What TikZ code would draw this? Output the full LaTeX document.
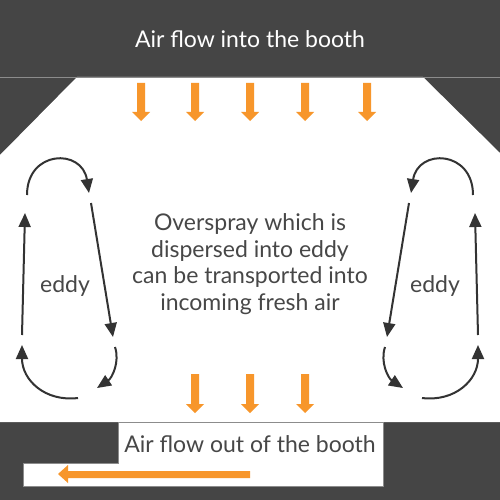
\documentclass[tikz,border=0pt]{standalone}
\usepackage{fontspec}
\setmainfont{Lato}
\usetikzlibrary{arrows.meta}

\definecolor{boothgray}{HTML}{454545}
\definecolor{edgegray}{HTML}{8C8C8C}
\definecolor{flow}{HTML}{F7962B}
\definecolor{eddyline}{HTML}{333333}
\definecolor{textgray}{HTML}{474747}

\tikzset{
  flowarrow/.style={fill=flow},
  eddyarrow/.style={draw=eddyline, line width=2pt, -{Triangle[length=14pt,width=12pt]}},
  headtext/.style={inner sep=0pt, anchor=base, font=\fontsize{23}{27}\selectfont},
  bodytext/.style={inner sep=0pt, align=center, text=textgray, font=\fontsize{23}{26.5}\selectfont},
}

\begin{document}
\begin{tikzpicture}[x=1pt,y=-1pt]
    % dark surroundings
    \fill[boothgray] (0,0) rectangle (500,500);
    \useasboundingbox (0,0) rectangle (500,500);

    % booth interior
    \fill[white] (77,77) -- (423,77) -- (500,153) -- (500,422) -- (0,422) -- (0,155) -- cycle;
    \draw[edgegray, line width=0.8pt] (0,77) -- (500,77);

    % outlet box
    \filldraw[fill=white, draw=edgegray, line width=0.8pt]
      (118,422) -- (383,422) -- (383,486) -- (23,486) -- (23,463) -- (118,463) -- cycle;

    % inflow arrows
    \foreach \x in {141,195,250,305,367}
    \fill[flowarrow] (\x-4,83) -- (\x+4,83) -- (\x+4,112) -- (\x+9,112) -- (\x,121)
      -- (\x-9,112) -- (\x-4,112) -- cycle;

    % outflow arrows
    \foreach \x in {195,250,305}
    \fill[flowarrow] (\x-4,374) -- (\x+4,374) -- (\x+4,404) -- (\x+9,404) -- (\x,413)
      -- (\x-9,404) -- (\x-4,404) -- cycle;

    % exhaust arrow
    \fill[flowarrow] (250,471) -- (68,471) -- (68,465) -- (58,474) -- (68,483) -- (68,478)
      -- (250,478) -- cycle;

    % texts
    \node[headtext, text=white] (inflow) at (250,48) {Air flow into the booth};
    \node[headtext, text=textgray] (outflow) at (250,452) {Air flow out of the booth};
    \node[bodytext] (overspray) at (250,264) {Overspray which is\\dispersed into eddy\\can be transported into\\incoming fresh air};

    % eddies, left one and its mirror image
    \foreach \s/\sh/\sx in {L/0/1, R/500/-1} {
      \begin{scope}[xshift=\sh, xscale=\sx]
        \coordinate (\s a) at (27,195);
        \coordinate (\s b) at (89,193);
        \coordinate (\s c) at (91,203);
        \coordinate (\s d) at (113,337);
        \coordinate (\s e) at (115,347);
        \coordinate (\s f) at (97,388);
        \coordinate (\s g) at (78,398);
        \coordinate (\s h) at (22,345);
        \coordinate (\s i) at (22,335);
        \coordinate (\s j) at (25,213);
        \draw[eddyarrow] (\s a) .. controls (27,150) and (82,148) .. (\s b);
        \draw[eddyarrow] (\s c) -- (\s d);
        \draw[eddyarrow] (\s e) .. controls (120,362) and (112,378) .. (\s f);
        \draw[eddyarrow] (\s g) .. controls (45,402) and (22,380) .. (\s h);
        \draw[eddyarrow] (\s i) -- (\s j);
        \node[headtext, text=textgray] (\s-eddy) at (65,292) {eddy};
      \end{scope}
    }

\end{tikzpicture}
\end{document}
